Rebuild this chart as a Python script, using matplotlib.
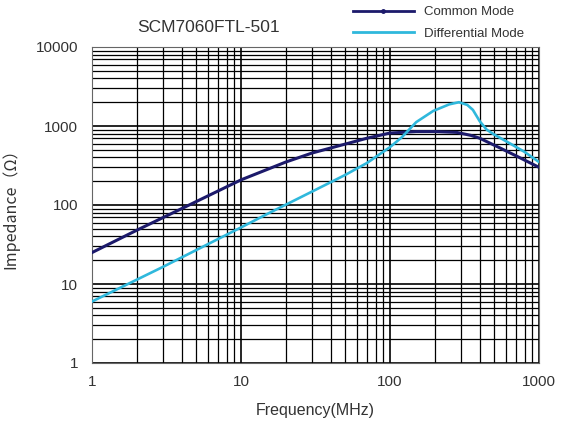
import numpy as np
import matplotlib
matplotlib.use('Agg')
import matplotlib.pyplot as plt
from matplotlib.lines import Line2D
from matplotlib.ticker import LogLocator, FixedLocator, FixedFormatter, NullFormatter

plt.rcParams['font.family'] = ['Liberation Sans', 'DejaVu Sans']

# values
freq_cm = [1, 2, 4, 10, 20, 30, 50, 70, 100, 150, 200, 280, 350, 400, 550, 700, 1000]
z_cm = [25, 48, 90, 208, 350, 455, 590, 700, 815, 850, 850, 830, 760, 700, 525, 420, 300]

freq_dm = [1, 3, 10, 15, 30, 50, 70, 100, 120, 150, 195, 250, 290, 330, 360, 400, 445, 500, 640, 800, 1000]
z_dm = [6, 16.5, 52, 77, 148, 240, 340, 540, 720, 1120, 1550, 1880, 2000, 1850, 1600, 1150, 900, 780, 600, 470, 350]

x_ticks = [1, 10, 100, 1000]
y_ticks = [1, 10, 100, 1000, 10000]

cm_color = '#1c1a6b'
dm_color = '#2fb8dc'

fig = plt.figure(figsize=(5.62, 4.32), dpi=100)
ax = fig.add_axes([92 / 562, 1 - 363 / 432, (539 - 92) / 562, (363 - 47) / 432])

ax.plot(freq_cm, z_cm, color=cm_color, linewidth=2.2, zorder=3)
ax.plot(freq_dm, z_dm, color=dm_color, linewidth=1.9, zorder=4)

ax.set_xscale('log')
ax.set_yscale('log')
ax.set_xlim(1, 1000)
ax.set_ylim(1, 10000)

ax.xaxis.set_major_locator(FixedLocator(x_ticks))
ax.xaxis.set_major_formatter(FixedFormatter([str(v) for v in x_ticks]))
ax.yaxis.set_major_locator(FixedLocator(y_ticks))
ax.yaxis.set_major_formatter(FixedFormatter([str(v) for v in y_ticks]))
ax.xaxis.set_minor_locator(LogLocator(base=10, subs=np.arange(2, 10), numticks=20))
ax.yaxis.set_minor_locator(LogLocator(base=10, subs=np.arange(2, 10), numticks=20))
ax.xaxis.set_minor_formatter(NullFormatter())
ax.yaxis.set_minor_formatter(NullFormatter())

ax.grid(which='major', color='black', linewidth=1.2)
ax.grid(which='minor', color='black', linewidth=0.9)
ax.tick_params(which='both', length=0, labelsize=11, colors='#333333')
ax.tick_params(axis='x', pad=9)
ax.tick_params(axis='y', pad=10)
for s in ax.spines.values():
    s.set_color('#666666')

ax.set_xlabel('Frequency(MHz)', fontsize=11.5, color='#333333', labelpad=10)
ax.set_ylabel('Impedance（Ω）', fontsize=11.5, color='#333333', labelpad=12,
              family=['Noto Sans CJK SC', 'DejaVu Sans'])

fig.text(209 / 562, 1 - 27 / 432, 'SCM7060FTL-501', ha='center', va='center',
         fontsize=12.5, color='#333333')

handles = [Line2D([], [], color=cm_color, linewidth=2, marker='o', markersize=2.5),
           Line2D([], [], color=dm_color, linewidth=2)]
fig.legend(handles, ['Common Mode', 'Differential Mode'], loc='upper left',
           bbox_to_anchor=(353 / 562, 1 - 6 / 432), frameon=False, fontsize=9.5,
           handlelength=4.6, handletextpad=0.8, labelspacing=0.7,
           borderpad=0, borderaxespad=0, numpoints=1, labelcolor='#333333')

fig.savefig('out.png', dpi=100)
